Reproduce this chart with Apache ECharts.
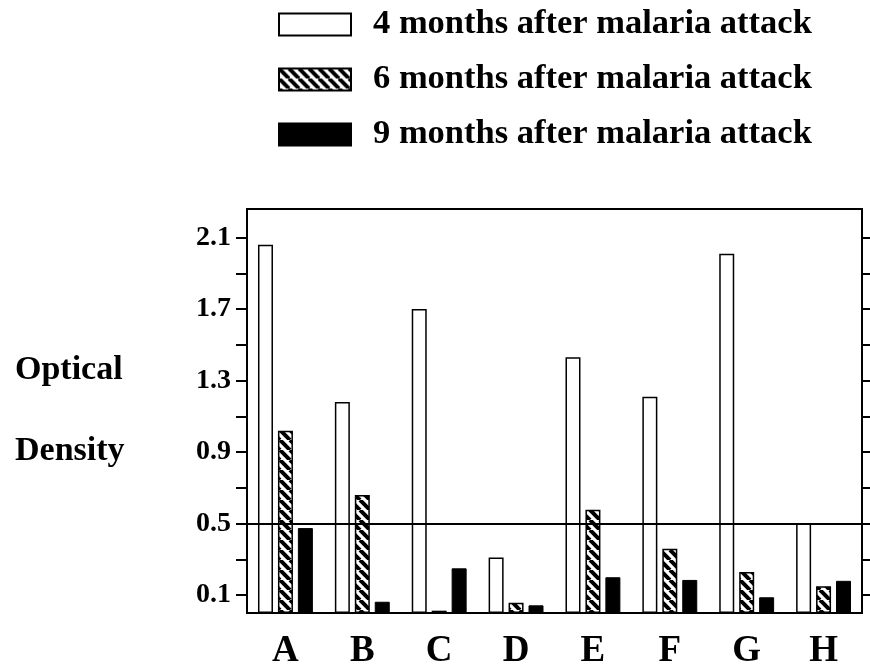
<!DOCTYPE html>
<html>
<head>
<meta charset="utf-8">
<script src="https://cdn.jsdelivr.net/npm/echarts@6/dist/echarts.min.js"></script>
<style>html,body{margin:0;padding:0;background:#fff}#c{width:870px;height:667px}</style>
</head>
<body>
<div id="c"></div>
<script>
var categories = ['A','B','C','D','E','F','G','H'];
var seriesNames = ['4 months after malaria attack','6 months after malaria attack','9 months after malaria attack'];
var months4 = [2.06, 1.18, 1.70, 0.31, 1.43, 1.21, 2.01, 0.50];
var months6 = [1.02, 0.66, 0.013, 0.058, 0.577, 0.36, 0.23, 0.15];
var months9 = [0.475, 0.063, 0.25, 0.043, 0.20, 0.185, 0.088, 0.18];
var yLabelValues = [0.1, 0.5, 0.9, 1.3, 1.7, 2.1];
var yTickValues = [0.1, 0.3, 0.5, 0.7, 0.9, 1.1, 1.3, 1.5, 1.7, 1.9, 2.1];
var thresholdValue = 0.5;

var FONT = '"Liberation Serif", "Times New Roman", serif';

function hatchPattern() {
  var s = 10;
  var cv = document.createElement('canvas');
  cv.width = s; cv.height = s;
  var ctx = cv.getContext('2d');
  ctx.fillStyle = '#fff';
  ctx.fillRect(0, 0, s, s);
  ctx.strokeStyle = '#000';
  ctx.lineWidth = 4;
  [-s, 0, s].forEach(function (k) {
    ctx.beginPath();
    ctx.moveTo(k, 0);
    ctx.lineTo(k + s, s);
    ctx.stroke();
  });
  return cv;
}

var chart = echarts.init(document.getElementById('c'), null, {renderer: 'canvas'});
var barW = 15;
var option = {
  backgroundColor: '#fff',
  animation: false,
  legend: {
    orient: 'vertical',
    left: 273,
    top: 2,
    itemWidth: 72,
    itemHeight: 22,
    itemGap: 20,
    selectedMode: false,
    icon: 'rect',
    itemStyle: {borderColor: '#000', borderWidth: 2},
    textStyle: {fontFamily: FONT, fontWeight: 'bold', fontSize: 34.5, color: '#000', lineHeight: 34, padding: [0, 0, 0, 17]},
    data: seriesNames
  },
  grid: {left: 247, right: 8, top: 209, bottom: 54, show: true, borderColor: '#000', borderWidth: 2,
    backgroundColor: 'transparent', containLabel: false, outerBoundsMode: 'none'},
  xAxis: {
    type: 'category',
    data: categories,
    axisLine: {show: true, lineStyle: {color: '#000', width: 2}},
    axisTick: {show: false},
    axisLabel: {fontFamily: FONT, fontWeight: 'bold', fontSize: 37, color: '#000', margin: 20}
  },
  yAxis: [{
    type: 'value',
    min: 0,
    max: 2.26,
    position: 'left',
    splitLine: {show: false},
    axisLine: {show: true, lineStyle: {color: '#000', width: 2}},
    axisTick: {show: true, length: 11, lineStyle: {color: '#000', width: 2}, customValues: yTickValues},
    axisLabel: {fontFamily: FONT, fontWeight: 'bold', fontSize: 28, color: '#000', margin: 16, customValues: yLabelValues,
      formatter: function (v) { return v.toFixed(1); }},
    name: 'Optical\nDensity',
    nameLocation: 'middle',
    nameRotate: 0,
    nameGap: 232,
    nameTextStyle: {fontFamily: FONT, fontWeight: 'bold', fontSize: 34, color: '#000', lineHeight: 81, align: 'left'}
  }, {
    type: 'value',
    min: 0,
    max: 2.26,
    position: 'right',
    splitLine: {show: false},
    axisLine: {show: true, lineStyle: {color: '#000', width: 2}},
    axisTick: {show: true, length: 9, lineStyle: {color: '#000', width: 2}, customValues: yTickValues},
    axisLabel: {show: false}
  }],
  series: [{
    name: seriesNames[0],
    type: 'bar',
    data: months4,
    barWidth: barW,
    barGap: '33%',
    itemStyle: {color: '#fff', borderColor: '#000', borderWidth: 1.5},
    markLine: {
      silent: true,
      symbol: 'none',
      label: {show: false},
      lineStyle: {color: '#000', width: 2, type: 'solid'},
      data: [{yAxis: thresholdValue}]
    }
  }, {
    name: seriesNames[1],
    type: 'bar',
    data: months6,
    barWidth: barW,
    barGap: '33%',
    itemStyle: {color: {image: hatchPattern(), repeat: 'repeat'}, borderColor: '#000', borderWidth: 1.5}
  }, {
    name: seriesNames[2],
    type: 'bar',
    data: months9,
    barWidth: barW,
    barGap: '33%',
    itemStyle: {color: '#000', borderColor: '#000', borderWidth: 1}
  }]
};
chart.setOption(option);
</script>
</body>
</html>
